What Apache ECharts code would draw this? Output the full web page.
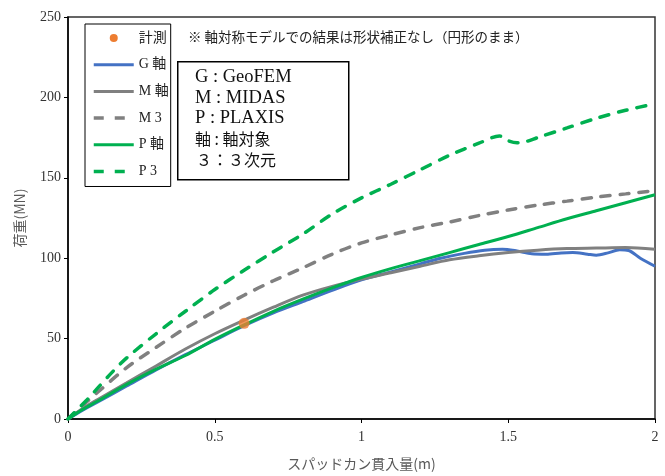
<!DOCTYPE html>
<html>
<head>
<meta charset="utf-8">
<script src="https://cdn.jsdelivr.net/npm/echarts@6/dist/echarts.min.js"></script>
<style>
  html, body { margin: 0; padding: 0; background: #fff; }
  #chart { width: 665px; height: 476px; }
</style>
</head>
<body>
<div id="chart"></div>
<script>
// Load vs. spudcan penetration, axisymmetric (軸) and 3D (3) analyses
const seriesNames = ['計測', 'G 軸', 'M 軸', 'M 3', 'P 軸', 'P 3'];

const measured = [[0.6, 59.5]];

const gAxis = [[0,0],[0.05,5.5],[0.1,10.5],[0.2,20.5],[0.3,30.5],[0.4,40],[0.5,49],[0.6,58],[0.7,66],[0.8,73],[0.9,80],[1.0,86.5],[1.1,91.5],[1.2,96.5],[1.27,100],[1.35,103],[1.42,105],[1.48,105.6],[1.53,104.5],[1.58,102.8],[1.63,102.5],[1.68,103.3],[1.72,103.5],[1.77,102.5],[1.8,101.9],[1.84,103.3],[1.88,105.2],[1.91,104.8],[1.95,100],[2.0,95]];

const mAxis = [[0,0],[0.05,6.5],[0.1,12],[0.2,22.5],[0.3,33],[0.4,43.5],[0.5,53],[0.6,61.5],[0.7,69.5],[0.8,77],[0.9,82.5],[1.0,87],[1.1,91],[1.2,95],[1.3,99],[1.4,101.5],[1.5,103.5],[1.6,105],[1.7,106],[1.8,106.3],[1.9,106.6],[2.0,105.5]];

const m3d = [[0,0],[0.05,8.5],[0.1,16.5],[0.2,32],[0.3,44.5],[0.4,56.5],[0.5,67],[0.6,77],[0.7,86],[0.8,94],[0.9,102.5],[1.0,109.5],[1.1,114.5],[1.2,119],[1.3,122.5],[1.4,126.5],[1.5,130],[1.6,133],[1.7,135.5],[1.8,138],[1.9,140],[2.0,142]];

const pAxis = [[0,0],[0.05,6],[0.1,11],[0.2,21.5],[0.3,31],[0.4,39.5],[0.5,49.5],[0.6,58.5],[0.7,67],[0.8,74.5],[0.9,81.5],[1.0,88],[1.1,93.5],[1.2,98.5],[1.3,103.5],[1.4,108.5],[1.5,113.5],[1.6,119],[1.7,124.5],[1.8,129.5],[1.9,134.5],[2.0,139.5]];

const p3d = [[0,0],[0.065,12],[0.1,19],[0.15,29],[0.2,38],[0.3,53],[0.4,67],[0.5,80.5],[0.6,92.5],[0.7,104],[0.8,115],[0.9,127.5],[1.0,137.5],[1.1,146],[1.2,155],[1.3,164],[1.4,171.5],[1.47,176],[1.5,173],[1.53,171.8],[1.56,172.5],[1.6,175],[1.7,181],[1.8,187],[1.9,192],[2.0,196]];

const noteText = '※ 軸対称モデルでの結果は形状補正なし（円形のまま）';
const keyLines = ['G : GeoFEM', 'M : MIDAS', 'P : PLAXIS', '軸 : 軸対象', '３：３次元'];

const serif = '"Liberation Serif", "Noto Sans CJK JP", serif';
const sans = '"Noto Sans CJK JP", "Noto Sans", sans-serif';

const BLUE = '#4472C4', GRAY = '#808080', GREEN = '#00B050', ORANGE = '#ED7D31';

function lineSeries(name, data, color, dashed) {
  return {
    name, type: 'line', data, smooth: 0.3, symbol: 'none',
    lineStyle: { color, width: dashed ? 3.5 : 3, type: dashed ? [9, 10] : 'solid', cap: dashed ? 'round' : 'butt' },
    itemStyle: { color },
    z: 2
  };
}

const chart = echarts.init(document.getElementById('chart'), null, { renderer: 'canvas' });

// key box: latin rows in serif, kana/kanji rows in the CJK face
const keyY = [77, 98, 118.5, 138.5, 159.5];
const keyGraphics = keyLines.map((t, i) => ({
  type: 'text', x: i === 4 ? 196 : 195, y: keyY[i],
  style: {
    text: t,
    font: i < 3 ? '18.5px ' + serif : '16px ' + sans,
    fill: '#111', verticalAlign: 'middle'
  }
}));

// legend swatch for dashed series: long dashes
const legendDash = { type: [10, 11], cap: 'butt', width: 3.5 };

chart.setOption({
  animation: false,
  backgroundColor: '#fff',
  grid: { left: 68, right: 10, top: 17, bottom: 56, show: true, borderColor: '#333', borderWidth: 1.5, backgroundColor: 'transparent' },
  xAxis: {
    type: 'value', min: 0, max: 2, interval: 0.5,
    name: 'スパッドカン貫入量(m)', nameLocation: 'middle', nameGap: 38,
    nameTextStyle: { fontFamily: sans, fontSize: 14, color: '#595959' },
    axisLine: { lineStyle: { color: '#000', width: 1.5 } },
    axisTick: { show: true, length: 4, lineStyle: { color: '#000', width: 1 } },
    axisLabel: { fontFamily: serif, fontSize: 14, color: '#333', margin: 11 },
    splitLine: { show: false }
  },
  yAxis: {
    type: 'value', min: 0, max: 250, interval: 50,
    name: '荷重(MN)', nameLocation: 'middle', nameGap: 41,
    nameTextStyle: { fontFamily: sans, fontSize: 14, color: '#595959' },
    axisLine: { show: true, lineStyle: { color: '#000', width: 1.5 } },
    axisTick: { show: true, length: 4, lineStyle: { color: '#000', width: 1 } },
    axisLabel: { fontFamily: serif, fontSize: 14, color: '#333', margin: 7 },
    splitLine: { show: false }
  },
  legend: {
    orient: 'vertical', left: 85, top: 24,
    backgroundColor: '#fff',
    borderColor: '#000', borderWidth: 1,
    padding: [7, 2, 8, 7],
    itemWidth: 40, itemHeight: 14, itemGap: 12.7,
    itemStyle: { opacity: 0 },
    lineStyle: { width: 3 },
    textStyle: { fontFamily: serif, fontSize: 14, color: '#222' },
    data: [
      { name: '計測', icon: 'path://M0,0M40,14M16,7a4,4 0 1,0 8,0a4,4 0 1,0 -8,0z', itemStyle: { opacity: 1 } },
      'G 軸', 'M 軸',
      { name: 'M 3', lineStyle: legendDash },
      'P 軸',
      { name: 'P 3', lineStyle: legendDash }
    ]
  },
  graphic: [
    { type: 'text', left: 188, top: 30, style: { text: noteText, font: '13.5px ' + sans, fill: '#222' } },
    { type: 'rect', left: 177, top: 61, shape: { width: 171, height: 118 }, style: { fill: '#fff', stroke: '#000', lineWidth: 1.5 } },
    ...keyGraphics
  ],
  series: [
    { name: '計測', type: 'scatter', data: measured, symbol: 'circle', symbolSize: 11, itemStyle: { color: ORANGE }, z: 5 },
    lineSeries('G 軸', gAxis, BLUE, false),
    lineSeries('M 軸', mAxis, GRAY, false),
    lineSeries('M 3', m3d, GRAY, true),
    lineSeries('P 軸', pAxis, GREEN, false),
    lineSeries('P 3', p3d, GREEN, true)
  ]
});
</script>
</body>
</html>
